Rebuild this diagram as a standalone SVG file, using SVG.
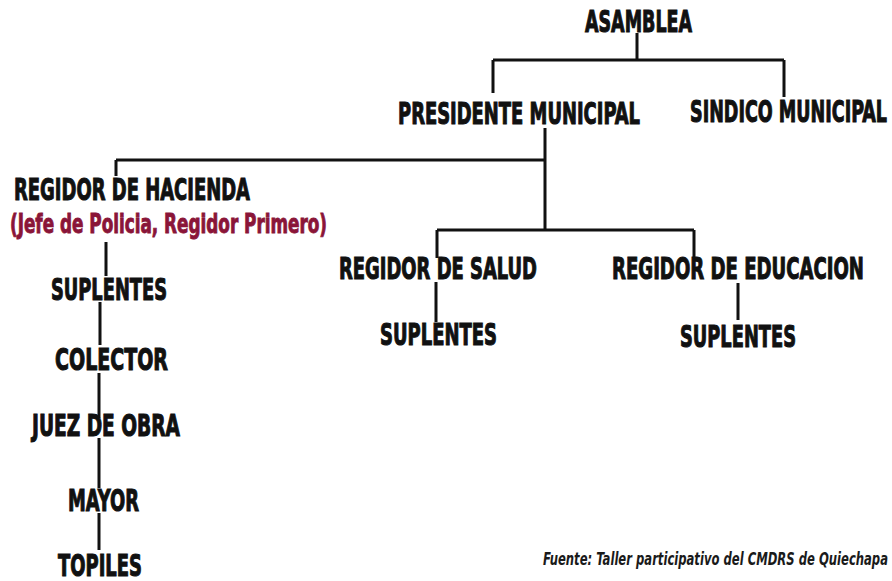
<svg xmlns="http://www.w3.org/2000/svg" width="892" height="581" viewBox="0 0 892 581">
<style>
.t{font-family:"DejaVu Sans Condensed","DejaVu Sans","Liberation Sans",sans-serif;font-weight:bold;font-size:31px;fill:#111;stroke:#111;stroke-width:1.1;}
.r{font-family:"DejaVu Sans Condensed","DejaVu Sans","Liberation Sans",sans-serif;font-weight:bold;font-size:27px;fill:#8a1538;stroke:#8a1538;stroke-width:0.9;}
.f{font-family:"DejaVu Sans Condensed","DejaVu Sans","Liberation Sans",sans-serif;font-weight:bold;font-style:italic;font-size:18px;fill:#1a1a1a;}
.c{stroke:#111;stroke-width:3;fill:none;}
</style>
<rect width="892" height="581" fill="#fff"/>
<g id="connectors" class="c">
<path d="M637 33V60M493 60H784M493 60V93M784 60V97"/>
<path d="M545 128V230M116 160H545M116 160V176"/>
<path d="M437 230H694M437 230V258M694 230V258"/>
<path d="M436 282V322M738 283V320"/>
<path d="M106 242V276M100 302V345M99 373V418M99 438V488M99 513V550"/>
</g>
<g id="asamblea"><text class="t" x="585" y="32" textLength="107" lengthAdjust="spacingAndGlyphs">ASAMBLEA</text></g>
<g id="presidente"><text class="t" x="398" y="124" textLength="242" lengthAdjust="spacingAndGlyphs">PRESIDENTE MUNICIPAL</text></g>
<g id="sindico"><text class="t" x="690" y="122" textLength="197" lengthAdjust="spacingAndGlyphs">SINDICO MUNICIPAL</text></g>
<g id="hacienda">
<text class="t" x="14" y="200" textLength="236" lengthAdjust="spacingAndGlyphs">REGIDOR DE HACIENDA</text>
<text class="r" x="10" y="233" textLength="317" lengthAdjust="spacingAndGlyphs">(Jefe de Policia, Regidor Primero)</text>
</g>
<g id="salud"><text class="t" x="339" y="279" textLength="198" lengthAdjust="spacingAndGlyphs">REGIDOR DE SALUD</text></g>
<g id="educacion"><text class="t" x="612" y="279" textLength="252" lengthAdjust="spacingAndGlyphs">REGIDOR DE EDUCACION</text></g>
<g id="suplentes-salud"><text class="t" x="380" y="345" textLength="117" lengthAdjust="spacingAndGlyphs">SUPLENTES</text></g>
<g id="suplentes-educacion"><text class="t" x="680" y="347" textLength="116" lengthAdjust="spacingAndGlyphs">SUPLENTES</text></g>
<g id="suplentes-hacienda"><text class="t" x="51" y="300" textLength="116" lengthAdjust="spacingAndGlyphs">SUPLENTES</text></g>
<g id="colector"><text class="t" x="55" y="370" textLength="113" lengthAdjust="spacingAndGlyphs">COLECTOR</text></g>
<g id="juez"><text class="t" x="32" y="436" textLength="148" lengthAdjust="spacingAndGlyphs">JUEZ DE OBRA</text></g>
<g id="mayor"><text class="t" x="68" y="511" textLength="71" lengthAdjust="spacingAndGlyphs">MAYOR</text></g>
<g id="topiles"><text class="t" x="58" y="576" textLength="84" lengthAdjust="spacingAndGlyphs">TOPILES</text></g>
<g id="fuente"><text class="f" x="543" y="565" textLength="345" lengthAdjust="spacingAndGlyphs">Fuente: Taller participativo del CMDRS de Quiechapa</text></g>
</svg>
